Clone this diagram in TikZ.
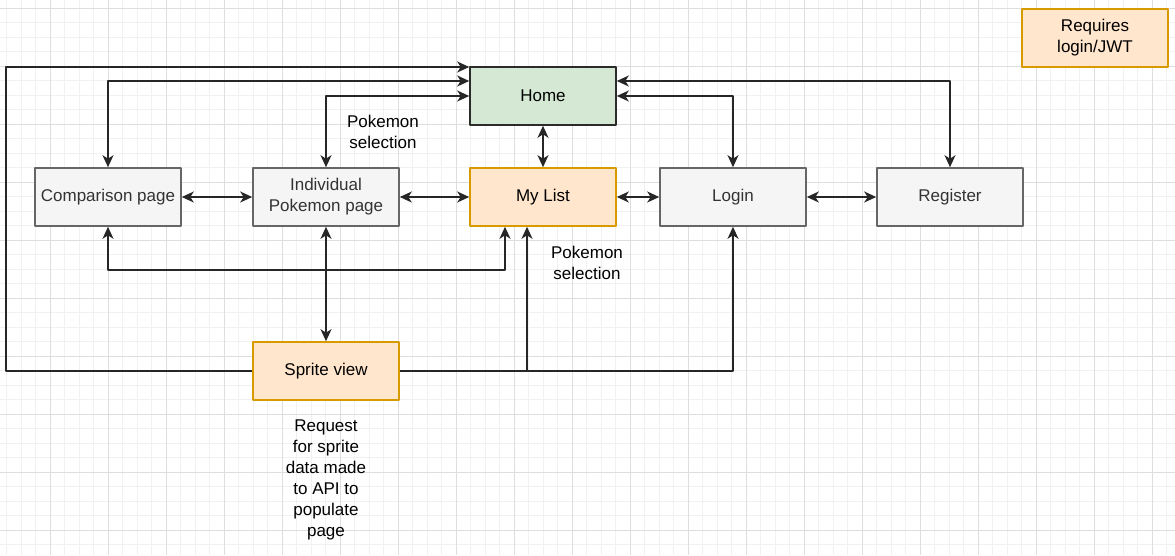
\documentclass[tikz,border=0pt]{standalone}
\usepackage{fontspec}
\setmainfont{Liberation Sans}
\usetikzlibrary{arrows.meta}
\definecolor{pagefill}{HTML}{F5F5F5}
\definecolor{pageline}{HTML}{666666}
\definecolor{pagetext}{HTML}{333333}
\definecolor{authfill}{HTML}{FFE6CC}
\definecolor{authline}{HTML}{D79B00}
\definecolor{homefill}{HTML}{D5E8D4}
\definecolor{homeline}{HTML}{2B2B2B}
\definecolor{gminorcol}{HTML}{F1F1F1}
\definecolor{gmajorcol}{HTML}{DEDEDE}
\begin{document}
\begin{tikzpicture}[x=1pt, y=-1pt, line join=round, >={Stealth[length=12pt,width=11pt,inset=3.5pt]},
	font=\fontsize{17}{21}\selectfont,
	box/.style={draw, line width=1.6pt, minimum width=146pt, minimum height=58pt, inner sep=2pt, align=center},
	pagebox/.style={box, draw=pageline, fill=pagefill, text=pagetext},
	authbox/.style={box, draw=authline, fill=authfill},
	homebox/.style={box, draw=homeline, fill=homefill},
	note/.style={align=center, inner sep=0pt},
	conn/.style={line width=1.7pt, draw=black!85},
	gminor/.style={draw=gminorcol, line width=0.8pt},
	gmajor/.style={draw=gmajorcol, line width=0.8pt}]
	\useasboundingbox[fill=white] (0,0) rectangle (1175,555);
	\foreach \i in {1,...,81} \draw[gminor] ({-8+14.5*\i},0) -- ({-8+14.5*\i},555);
	\foreach \j in {0,...,37} \draw[gminor] (0,{8+14.5*\j}) -- (1175,{8+14.5*\j});
	\foreach \i in {1,...,20} \draw[gmajor] ({-8+58*\i},0) -- ({-8+58*\i},555);
	\foreach \j in {0,...,9} \draw[gmajor] (0,{8+58*\j}) -- (1175,{8+58*\j});
	
	\node[homebox] (home) at (543,96) {Home};
	\node[authbox] (mylist) at (543,197) {My List};
	\node[pagebox] (login) at (733,197) {Login};
	\node[pagebox] (register) at (950,197) {Register};
	\node[pagebox] (compare) at (108,197) {Comparison page};
	\node[pagebox] (single) at (326,197) {Individual\\Pokemon page};
	\node[authbox] (sprite) at (326,371) {Sprite view};
	\node[authbox] (legend) at (1095,38) {Requires\\login/JWT};
	
	\node[note] (sel1) at (383,132) {Pokemon\\selection};
	\node[note] (sel2) at (587,263) {Pokemon\\selection};
	\node[note] (request) at (326,480) {Request\\for sprite\\data made\\to API to\\populate\\page};
	
	\draw[conn, <->] (compare.north) |- ([yshift=15]home.west);
	\draw[conn, <->] (single.north) |- (home.west);
	\draw[conn, ->] (sprite.west) -- ++(-246,0) |- ([yshift=29]home.west);
	\draw[conn, <->] (home.east) -| (login.north);
	\draw[conn, <->] ([yshift=15]home.east) -| (register.north);
	\draw[conn, <->] (home.south) -- (mylist.north);
	\draw[conn, <->] (compare.east) -- (single.west);
	\draw[conn, <->] (single.east) -- (mylist.west);
	\draw[conn, <->] (mylist.east) -- (login.west);
	\draw[conn, <->] (login.east) -- (register.west);
	\draw[conn, <->] (compare.south) -- ++(0,43) -| ([xshift=-38]mylist.south);
	\draw[conn, <->] (single.south) -- (sprite.north);
	\draw[conn, ->] (sprite.east) -| ([xshift=-16]mylist.south);
	\draw[conn, ->] (sprite.east) -| (login.south);
\end{tikzpicture}
\end{document}
